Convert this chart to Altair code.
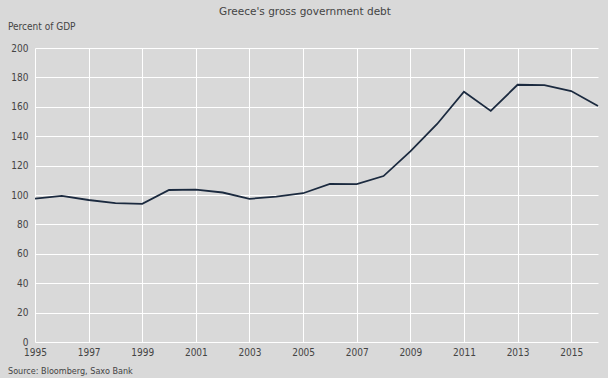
import altair as alt
import pandas as pd

years = list(range(1995, 2017))
debt = [97.5, 99.4, 96.6, 94.5, 94.0, 103.4, 103.7, 101.7, 97.4, 98.9, 101.2,
        107.5, 107.4, 112.9, 129.7, 148.3, 170.3, 157.2, 175.0, 174.7, 170.7, 160.5]
x_ticks = list(range(1995, 2016, 2))
y_ticks = list(range(0, 201, 20))

title_text = "Greece's gross government debt"
y_label = "Percent of GDP"
source_text = "Source: Bloomberg, Saxo Bank"

df = pd.DataFrame({"year": years, "debt": debt})

W, H = 563, 294
FONT = "DejaVu Sans"
CFONT = "DejaVu Sans Condensed"
TXT = "#444444"

base = alt.Chart(df)

line = base.mark_line(color="#1b2a3f", strokeWidth=1.8).encode(
    x=alt.X("year:Q", scale=alt.Scale(domain=[1995, 2016], nice=False, zero=False),
            axis=alt.Axis(values=x_ticks, format="d", title=None, grid=True,
                          gridColor="white", gridWidth=1, domain=False, ticks=False,
                          labelPadding=5, labelFont=CFONT, labelFontSize=10,
                          labelColor=TXT, labelFlush=False)),
    y=alt.Y("debt:Q", scale=alt.Scale(domain=[0, 200], nice=False),
            axis=alt.Axis(values=y_ticks, title=None, grid=True, gridColor="white",
                          gridWidth=1, domain=False, ticks=False, labelPadding=7,
                          labelFont=CFONT, labelFontSize=10, labelColor=TXT)),
)

title_mark = alt.Chart(pd.DataFrame({"t": [title_text]})).mark_text(
    font=FONT, fontSize=10.5, color=TXT, align="center", baseline="middle"
).encode(text="t:N", x=alt.value(270), y=alt.value(-36))
ylab_mark = alt.Chart(pd.DataFrame({"t": [y_label]})).mark_text(
    font=CFONT, fontSize=10, color=TXT, align="left", baseline="middle"
).encode(text="t:N", x=alt.value(-27), y=alt.value(-21))
src_mark = alt.Chart(pd.DataFrame({"t": [source_text]})).mark_text(
    font=CFONT, fontSize=9, color=TXT, align="left", baseline="middle"
).encode(text="t:N", x=alt.value(-27), y=alt.value(H + 29))

chart = alt.layer(line, title_mark, ylab_mark, src_mark).properties(
    width=W, height=H, background="#d9d9d9",
    autosize=alt.AutoSizeParams(type="none"),
    padding={"left": 35, "top": 48, "right": 10, "bottom": 36},
).configure_view(stroke=None, fill="#d9d9d9")

chart.save("out.html", embed_options={"renderer": "svg", "actions": False})
